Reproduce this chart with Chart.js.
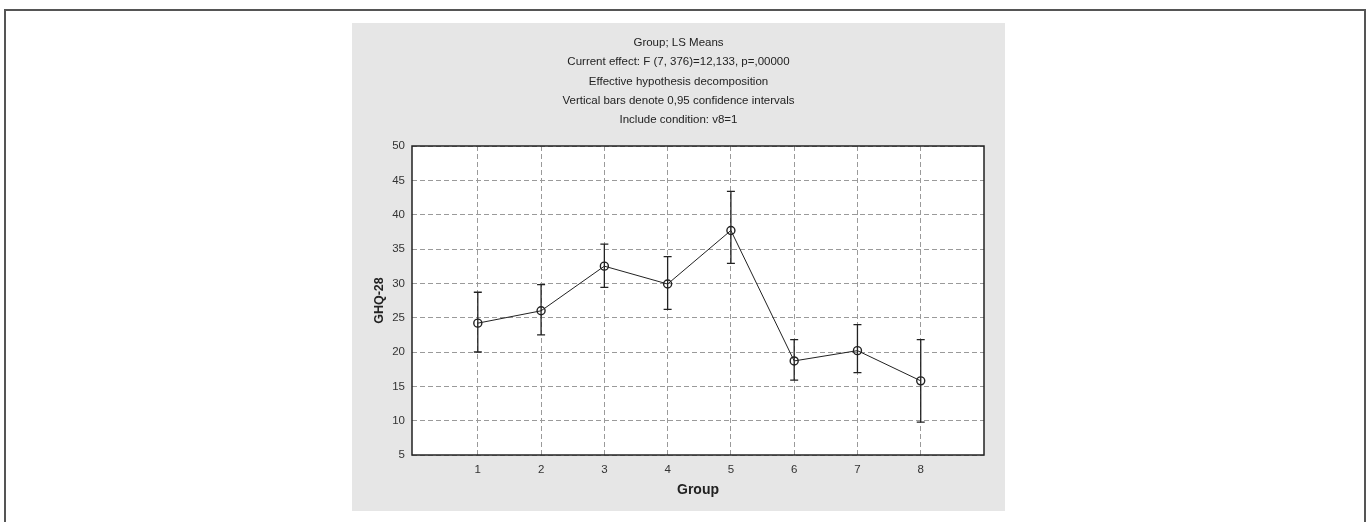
<!DOCTYPE html>
<html>
<head>
<meta charset="utf-8">
<script src="https://cdn.jsdelivr.net/npm/chart.js@4.4.0/dist/chart.umd.min.js"></script>
<style>
  html, body { margin: 0; padding: 0; width: 1367px; height: 522px; overflow: hidden; background: #fff; }
  #frame { position: absolute; left: 4px; top: 9px; width: 1362px; height: 600px; box-sizing: border-box; border: 2px solid #555; }
  #panel { position: absolute; left: 352px; top: 23px; width: 653px; height: 488px; background: #e6e6e6; }
  canvas { display: block; }
</style>
</head>
<body>
<div id="frame"></div>
<div id="panel"><canvas id="c" width="653" height="488"></canvas></div>
<script>
// ---- data ----
const groups = [1, 2, 3, 4, 5, 6, 7, 8];
const means  = [24.2, 26.0, 32.5, 29.9, 37.7, 18.7, 20.2, 15.8];
const upper  = [28.7, 29.8, 35.7, 33.9, 43.4, 21.8, 24.0, 21.8];
const lower  = [20.0, 22.5, 29.4, 26.2, 32.9, 15.9, 17.0, 9.8];
const yTicks = [5, 10, 15, 20, 25, 30, 35, 40, 45, 50];
const titleLines = [
  'Group; LS Means',
  'Current effect: F (7, 376)=12,133, p=,00000',
  'Effective hypothesis decomposition',
  'Vertical bars denote 0,95 confidence intervals',
  'Include condition: v8=1'
];
const xTitle = 'Group';
const yTitle = 'GHQ-28';

const FONT = "'Liberation Sans', Arial, Helvetica, sans-serif";

const bgPlugin = {
  id: 'bg',
  beforeDraw(chart) {
    const {ctx, chartArea: a} = chart;
    ctx.save();
    ctx.fillStyle = '#ffffff';
    ctx.fillRect(a.left, a.top, a.right - a.left, a.bottom - a.top);
    ctx.restore();
  },
  afterDraw(chart) {
    const {ctx, chartArea: a} = chart;
    ctx.save();
    ctx.strokeStyle = '#222';
    ctx.lineWidth = 1.5;
    ctx.strokeRect(a.left, a.top, a.right - a.left, a.bottom - a.top);
    // title lines
    ctx.fillStyle = '#222';
    ctx.font = '11.5px ' + FONT;
    ctx.textAlign = 'center';
    ctx.textBaseline = 'middle';
    const cx = chart.width / 2;
    titleLines.forEach((t, i) => ctx.fillText(t, cx, 20 + i * 19.2));
    ctx.restore();
  }
};

const errPlugin = {
  id: 'err',
  afterDatasetsDraw(chart) {
    const {ctx, scales: {x, y}} = chart;
    ctx.save();
    ctx.strokeStyle = '#222';
    ctx.lineWidth = 1.3;
    groups.forEach((g, i) => {
      const px = x.getPixelForValue(g);
      const pt = y.getPixelForValue(upper[i]);
      const pb = y.getPixelForValue(lower[i]);
      ctx.beginPath();
      ctx.moveTo(px, pt); ctx.lineTo(px, pb);
      ctx.moveTo(px - 4, pt); ctx.lineTo(px + 4, pt);
      ctx.moveTo(px - 4, pb); ctx.lineTo(px + 4, pb);
      ctx.stroke();
    });
    ctx.restore();
  }
};

new Chart(document.getElementById('c'), {
  type: 'line',
  data: {
    datasets: [{
      data: groups.map((g, i) => ({x: g, y: means[i]})),
      borderColor: '#222',
      borderWidth: 1,
      pointRadius: 4,
      pointBorderWidth: 1.4,
      pointBorderColor: '#222',
      pointBackgroundColor: 'rgba(255,255,255,0)',
      tension: 0,
      fill: false
    }]
  },
  options: {
    responsive: false,
    animation: false,
    events: [],
    layout: { padding: { top: 123, right: 21, left: 0, bottom: 0 } },
    plugins: { legend: { display: false }, tooltip: { enabled: false }, title: { display: false } },
    scales: {
      x: {
        type: 'linear',
        min: -0.04,
        max: 9,
        afterFit(s) { s.height = 56; },
        afterBuildTicks(s) { s.ticks = groups.map(v => ({value: v})); },
        grid: { color: '#9a9a9a', lineWidth: 1, drawTicks: false },
        border: { display: false, dash: [5, 3] },
        ticks: { padding: 8, color: '#333', font: { size: 11.5, family: FONT }, maxRotation: 0 },
        title: { display: true, text: xTitle, color: '#222', font: { size: 14, weight: 'bold', family: FONT }, padding: { top: 0, bottom: 12 } }
      },
      y: {
        type: 'linear',
        min: 5,
        max: 50,
        afterFit(s) { s.width = 60; },
        afterBuildTicks(s) { s.ticks = yTicks.map(v => ({value: v})); },
        grid: { color: '#9a9a9a', lineWidth: 1, drawTicks: false },
        border: { display: false, dash: [5, 3] },
        ticks: { padding: 7, color: '#333', font: { size: 11.5, family: FONT } },
        title: { display: true, text: yTitle, color: '#222', font: { size: 12.5, weight: 'bold', family: FONT }, padding: { top: 20, bottom: 0 } }
      }
    }
  },
  plugins: [bgPlugin, errPlugin]
});
</script>
</body>
</html>
